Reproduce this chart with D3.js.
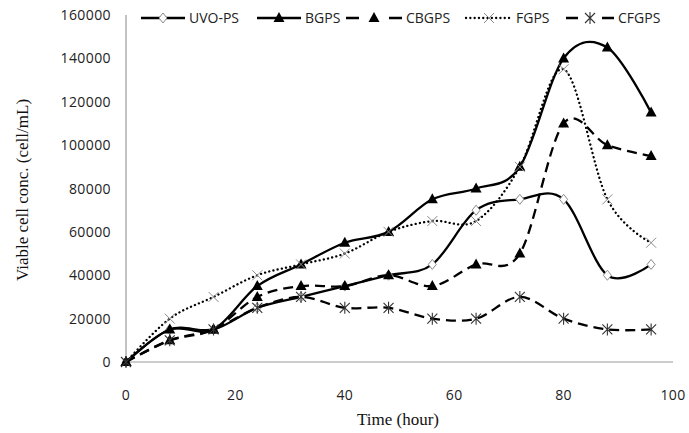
<!DOCTYPE html>
<html lang="en">
<head>
  <meta charset="UTF-8">
  <title>Viable cell concentration</title>
  <script src="https://d3js.org/d3.v7.min.js"></script>
  <style>
    body { margin: 0; background: #fff; }
    .tick-label { font-family: "Open Sans", "Liberation Sans", sans-serif; font-size: 14px; letter-spacing: 0.4px; fill: #222; }
    .legend-label { font-family: "Open Sans", "Liberation Sans", sans-serif; font-size: 14px; fill: #222; }
    .axis-title { font-family: "Liberation Serif", "DejaVu Serif", serif; font-size: 17px; fill: #111; }
  </style>
</head>
<body>
  <div id="chart"></div>
  <script>
    // time points (hour)
    const hours = [0, 8, 16, 24, 32, 40, 48, 56, 64, 72, 80, 88, 96];
    // viable cell conc. (cell/mL)
    const uvoPs = [0, 15000, 15000, 25000, 30000, 35000, 40000, 45000, 70000, 75000, 75000, 40000, 45000];
    const bgps  = [0, 15000, 15000, 35000, 45000, 55000, 60000, 75000, 80000, 90000, 140000, 145000, 115000];
    const cbgps = [0, 10000, 15000, 30000, 35000, 35000, 40000, 35000, 45000, 50000, 110000, 100000, 95000];
    const fgps  = [0, 20000, 30000, 40000, 45000, 50000, 60000, 65000, 65000, 90000, 135000, 75000, 55000];
    const cfgps = [0, 10000, 15000, 25000, 30000, 25000, 25000, 20000, 20000, 30000, 20000, 15000, 15000];

    const xTicks = [0, 20, 40, 60, 80, 100];
    const yTicks = [0, 20000, 40000, 60000, 80000, 100000, 120000, 140000, 160000];

    const seriesNames = ["UVO-PS", "BGPS", "CBGPS", "FGPS", "CFGPS"];
    const seriesValues = [uvoPs, bgps, cbgps, fgps, cfgps];
    const seriesDash = [null, null, "10,6", "0.1,4.2", "10,6"];
    const legendDash = [null, null, "13,30", "0.1,4.2", "12,24"];
    const seriesMarker = ["diamond", "triangle", "triangle", "cross", "star"];

    const width = 689, height = 433;
    const margin = { top: 15, right: 16, bottom: 71, left: 126 };

    const svg = d3.select("#chart").append("svg")
      .attr("width", width)
      .attr("height", height);

    const x = d3.scaleLinear().domain([0, 100]).range([margin.left, width - margin.right]);
    const y = d3.scaleLinear().domain([0, 160000]).range([height - margin.bottom, margin.top]);

    // axes
    svg.append("line")
      .attr("x1", x(0)).attr("x2", x(100))
      .attr("y1", y(0)).attr("y2", y(0))
      .attr("stroke", "#9a9a9a").attr("stroke-width", 1.2);
    svg.append("line")
      .attr("x1", x(0)).attr("x2", x(0))
      .attr("y1", y(0)).attr("y2", y(160000))
      .attr("stroke", "#9a9a9a").attr("stroke-width", 1.2);

    svg.selectAll(".ytick")
      .data(yTicks)
      .enter().append("text")
      .attr("class", "tick-label")
      .attr("x", x(0) - 15)
      .attr("y", d => y(d) + 5)
      .attr("text-anchor", "end")
      .text(d => d);

    svg.selectAll(".xtick")
      .data(xTicks)
      .enter().append("text")
      .attr("class", "tick-label")
      .attr("x", d => x(d))
      .attr("y", y(0) + 38)
      .attr("text-anchor", "middle")
      .text(d => d);

    svg.append("text")
      .attr("class", "axis-title")
      .attr("x", 398).attr("y", 425)
      .attr("text-anchor", "middle")
      .text("Time (hour)");

    svg.append("text")
      .attr("class", "axis-title")
      .attr("transform", "translate(28,190) rotate(-90)")
      .attr("text-anchor", "middle")
      .text("Viable cell conc. (cell/mL)");

    // markers
    function drawMarker(g, type, cx, cy) {
      if (type === "diamond") {
        g.append("path")
          .attr("d", `M${cx},${cy - 5}L${cx + 4},${cy}L${cx},${cy + 5}L${cx - 4},${cy}Z`)
          .attr("fill", "#fff").attr("stroke", "#8a8a8a").attr("stroke-width", 1);
      } else if (type === "triangle") {
        g.append("path")
          .attr("d", `M${cx},${cy - 6}L${cx + 5.5},${cy + 4}L${cx - 5.5},${cy + 4}Z`)
          .attr("fill", "#000");
      } else if (type === "cross") {
        g.append("path")
          .attr("d", `M${cx - 5},${cy - 5}L${cx + 5},${cy + 5}M${cx + 5},${cy - 5}L${cx - 5},${cy + 5}`)
          .attr("stroke", "#8a8a8a").attr("stroke-width", 1);
      } else if (type === "star") {
        g.append("path")
          .attr("d", `M${cx - 5},${cy - 5}L${cx + 5},${cy + 5}M${cx + 5},${cy - 5}L${cx - 5},${cy + 5}M${cx},${cy - 6}L${cx},${cy + 6}`)
          .attr("stroke", "#333").attr("stroke-width", 1.1);
      }
    }

    const line = d3.line()
      .x(d => x(d[0]))
      .y(d => y(d[1]))
      .curve(d3.curveCardinal.tension(0));

    seriesValues.forEach((vals, i) => {
      const pts = hours.map((h, j) => [h, vals[j]]);
      const g = svg.append("g");
      g.append("path")
        .datum(pts)
        .attr("d", line)
        .attr("fill", "none")
        .attr("stroke", "#000")
        .attr("stroke-width", 2.3)
        .attr("stroke-linecap", seriesMarker[i] === "cross" ? "round" : "butt")
        .attr("stroke-dasharray", seriesDash[i]);
      pts.forEach(p => drawMarker(g, seriesMarker[i], x(p[0]), y(p[1])));
    });

    // legend
    const legendX = [141, 257, 346, 466, 566];
    const legendW = [44, 44, 56, 46, 48];
    const legendY = 18;
    seriesNames.forEach((name, i) => {
      const g = svg.append("g");
      const x0 = legendX[i], x1 = legendX[i] + legendW[i];
      g.append("line")
        .attr("x1", x0).attr("x2", x1)
        .attr("y1", legendY).attr("y2", legendY)
        .attr("stroke", "#000").attr("stroke-width", 2.3)
        .attr("stroke-linecap", seriesMarker[i] === "cross" ? "round" : "butt")
        .attr("stroke-dasharray", legendDash[i]);
      drawMarker(g, seriesMarker[i], (x0 + x1) / 2, legendY);
      g.append("text")
        .attr("class", "legend-label")
        .attr("x", x1 + 4)
        .attr("y", legendY + 5)
        .text(name);
    });
  </script>
</body>
</html>
